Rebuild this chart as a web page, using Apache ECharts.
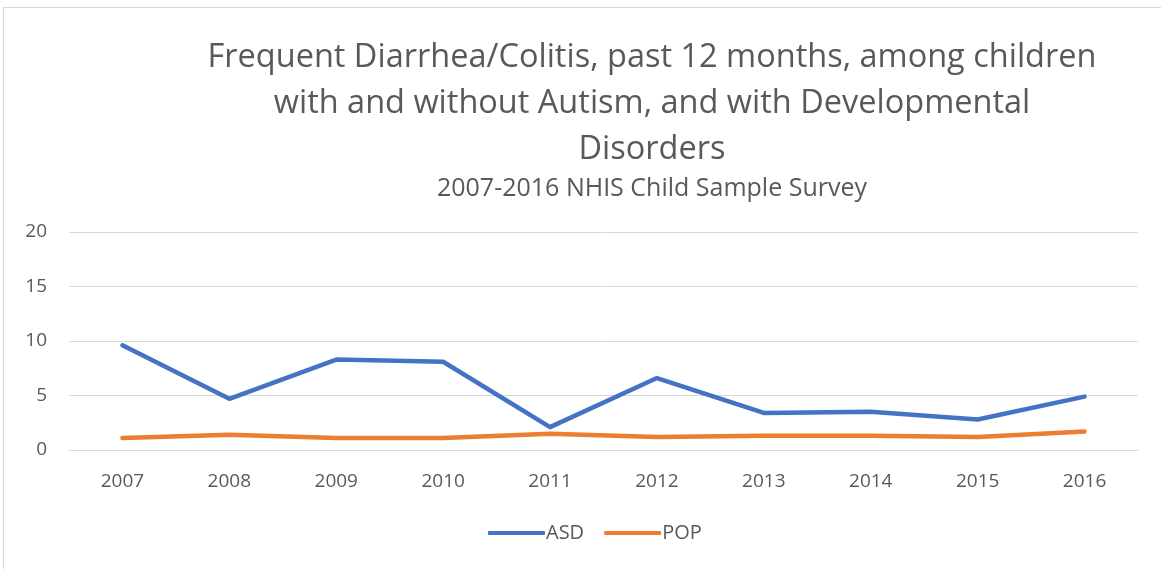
<!DOCTYPE html>
<html>
<head>
<meta charset="utf-8">
<script src="https://cdn.jsdelivr.net/npm/echarts@6/dist/echarts.min.js"></script>
<style>
  html, body { margin: 0; padding: 0; background: #fff; }
  #frame {
    position: absolute; left: 3px; top: 7px; width: 1170px; height: 570px;
    border: 1px solid #d9d9d9; box-sizing: border-box;
  }
  #chart { position: absolute; left: 0; top: 0; width: 1161px; height: 569px; }
</style>
</head>
<body>
<div id="frame"></div>
<div id="chart"></div>
<script>
// data
const years = ['2007', '2008', '2009', '2010', '2011', '2012', '2013', '2014', '2015', '2016']
const asdValues = [9.6, 4.7, 8.3, 8.1, 2.1, 6.6, 3.4, 3.5, 2.8, 4.9]
const popValues = [1.1, 1.4, 1.1, 1.1, 1.5, 1.2, 1.3, 1.3, 1.2, 1.7]

const textColor = '#595959'
const fontFamily = '"Open Sans", "Noto Sans", sans-serif'

const chart = echarts.init(document.getElementById('chart'))

chart.setOption({
  animation: false,
  textStyle: { fontFamily: fontFamily },
  title: [
    {
      text: 'Frequent Diarrhea/Colitis, past 12 months, among children\nwith and without Autism, and with Developmental\nDisorders',
      left: 647,
      top: 30,
      textAlign: 'center',
      textStyle: {
        fontFamily: fontFamily,
        fontSize: 32.5,
        fontWeight: 'normal',
        color: textColor,
        lineHeight: 46
      }
    },
    {
      text: '2007-2016 NHIS Child Sample Survey',
      left: 647,
      top: 171,
      textAlign: 'center',
      textStyle: {
        fontFamily: fontFamily,
        fontSize: 25,
        fontWeight: 'normal',
        color: textColor
      }
    }
  ],
  grid: {
    left: 69,
    right: 23,
    top: 232,
    bottom: 119,
    containLabel: false
  },
  legend: {
    bottom: 21,
    left: 483,
    itemWidth: 57,
    itemHeight: 4,
    itemGap: 20,
    icon: 'roundRect',
    textStyle: { color: textColor, fontSize: 20, fontFamily: fontFamily, padding: [0, 0, 0, -4] },
    data: ['ASD', 'POP']
  },
  xAxis: {
    type: 'category',
    data: years,
    boundaryGap: true,
    axisLine: { lineStyle: { color: '#d9d9d9', width: 1 } },
    axisTick: { show: false },
    axisLabel: { color: textColor, fontSize: 19, margin: 22 }
  },
  yAxis: {
    type: 'value',
    min: 0,
    max: 20,
    interval: 5,
    axisLine: { show: false },
    axisTick: { show: false },
    splitLine: { lineStyle: { color: '#d9d9d9', width: 1 } },
    axisLabel: { color: textColor, fontSize: 19, margin: 22 }
  },
  series: [
    {
      name: 'ASD',
      type: 'line',
      data: asdValues,
      symbol: 'none',
      lineStyle: { color: '#4472C4', width: 4.5, cap: 'round', join: 'round' },
      itemStyle: { color: '#4472C4' }
    },
    {
      name: 'POP',
      type: 'line',
      data: popValues,
      symbol: 'none',
      lineStyle: { color: '#ED7D31', width: 4.5, cap: 'round', join: 'round' },
      itemStyle: { color: '#ED7D31' }
    }
  ]
})
</script>
</body>
</html>
